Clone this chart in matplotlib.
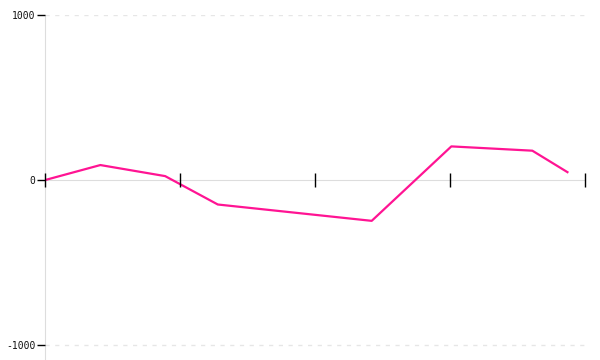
import matplotlib
matplotlib.use("Agg")
import matplotlib.pyplot as plt

x_vals = [0.0, 0.41, 0.89, 1.28, 2.42, 3.01, 3.61, 3.87]
y_vals = [0, 91, 24, -148, -247, 204, 178, 48]
y_ticks = [-1000, 0, 1000]
x_ticks = [0, 1, 2, 3, 4]

fig = plt.figure(figsize=(6, 3.6), dpi=100)
ax = fig.add_axes([45/600, 0.0, 540/600, 345/360])
ax.set_xlim(0, 4)
ax.set_ylim(-1090, 1000)

for yv in y_ticks:
    if yv == 0:
        continue
    ax.axhline(yv, color="#e6e6e6", lw=1, ls=(0, (3, 4)), zorder=0)

ax.plot(x_vals, y_vals, color="#ff1493", lw=1.6, zorder=3)

for s in ["top", "right"]:
    ax.spines[s].set_visible(False)
ax.spines["left"].set_color("#dddddd")
ax.spines["left"].set_bounds(-1090, 1000)
ax.spines["left"].set_zorder(0.5)
ax.spines["bottom"].set_position(("data", 0))
ax.spines["bottom"].set_color("#dddddd")
ax.spines["bottom"].set_zorder(0.5)

ax.set_xticks(x_ticks)
ax.set_xticklabels([])
ax.tick_params(axis="x", direction="inout", length=10, width=1, color="black")
for t in ax.xaxis.get_major_ticks():
    t.tick1line.set_clip_on(False)
    t.tick1line.set_zorder(4)
ax.set_yticks(y_ticks)
ax.set_yticklabels([str(v) for v in y_ticks], family="DejaVu Sans Mono", fontsize=7, color="#111111")
ax.tick_params(axis="y", direction="out", length=6, width=1, color="black", pad=1)
ax.xaxis.set_zorder(4)

fig.savefig("out.png", dpi=100)
